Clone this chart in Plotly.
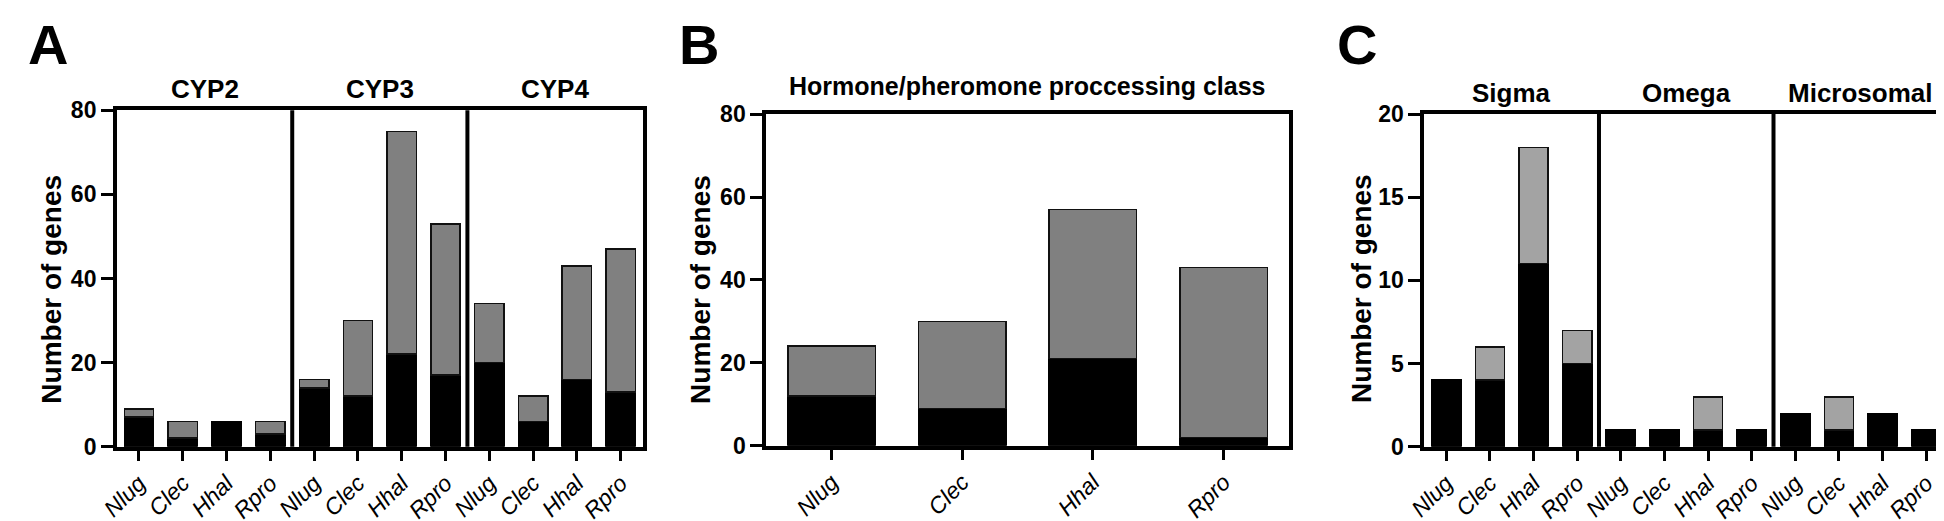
import plotly.graph_objects as go

species = ["Nlug", "Clec", "Hhal", "Rpro"]

cyp_groups = ["CYP2", "CYP3", "CYP4"]
cyp_black = [7, 2, 6, 3, 14, 12, 22, 17, 20, 6, 16, 13]
cyp_total = [9, 6, 6, 6, 16, 30, 75, 53, 34, 12, 43, 47]

hormone_title = "Hormone/pheromone proccessing class"
hormone_black = [12, 9, 21, 2]
hormone_total = [24, 30, 57, 43]

gst_groups = ["Sigma", "Omega", "Microsomal"]
gst_black = [4, 4, 11, 5, 1, 1, 1, 1, 2, 1, 2, 1]
gst_total = [4, 6, 18, 7, 1, 1, 3, 1, 2, 3, 2, 1]

W, H = 1944, 521
FONT = "Liberation Sans, Arial, sans-serif"


def grey_part(total, black):
    return [t - b if t - b > 0 else None for t, b in zip(total, black)]


def dom_x(a, b):
    return [a / W, b / W]


def dom_y(top, bottom):
    return [1 - bottom / H, 1 - top / H]


fig = go.Figure()

panels = [
    # black, total, light colour, labels, x domain, y domain, ymax, dtick, y-title x (px)
    (cyp_black, cyp_total, "#808080", species * 3, dom_x(92, 623), dom_y(94, 448), 80, 20, 26),
    (hormone_black, hormone_total, "#808080", species, dom_x(748, 1276), dom_y(98, 447), 80, 20, 682),
    (gst_black, gst_total, "#a3a3a3", species * 3, dom_x(1413, 1942), dom_y(98, 448), 20, 5, 1350),
]

for i, (black, total, light, labels, xdom, ydom, ymax, dt, ytx) in enumerate(panels):
    n = "" if i == 0 else str(i + 1)
    xa, ya = "x" + n, "y" + n
    xs = list(range(len(black)))
    fig.add_trace(go.Bar(x=xs, y=black, marker=dict(color="black", line=dict(color="black", width=1.5)),
                         xaxis=xa, yaxis=ya, showlegend=False))
    fig.add_trace(go.Bar(x=xs, y=grey_part(total, black),
                         marker=dict(color=light, line=dict(color="#111111", width=1.5)),
                         xaxis=xa, yaxis=ya, showlegend=False))
    fig.layout["xaxis" + n] = dict(
        domain=xdom, anchor=ya, range=[-0.5, len(black) - 0.5],
        tickvals=xs, ticktext=["<i>%s</i>" % t for t in labels], tickangle=-45,
        tickfont=dict(family=FONT, size=23, color="black"),
        ticks="outside", ticklen=10, tickwidth=3, tickcolor="black",
        showline=True, linewidth=4, linecolor="black", mirror=True,
        showgrid=False, zeroline=False,
    )
    fig.layout["yaxis" + n] = dict(
        domain=ydom, anchor=xa, range=[0, ymax], dtick=dt,
        tickfont=dict(family=FONT, size=23, color="black", weight="bold"),
        ticks="outside", ticklen=12, tickwidth=3, tickcolor="black",
        showline=True, linewidth=4, linecolor="black", mirror=True,
        showgrid=False, zeroline=False,
    )
    fig.add_annotation(x=ytx / W, y=1 - 282 / H, xref="paper", yref="paper", textangle=-90,
                       xanchor="center", yanchor="middle",
                       text="<b>Number of genes</b>", showarrow=False,
                       font=dict(family=FONT, size=28, color="black"))

# group dividers and titles
for xa, ya, groups in (("x", "y", cyp_groups), ("x3", "y3", gst_groups)):
    for k, g in enumerate(groups):
        if k > 0:
            fig.add_shape(type="line", xref=xa, yref=ya + " domain", x0=4 * k - 0.5, x1=4 * k - 0.5,
                          y0=0, y1=1, line=dict(color="black", width=4))
        fig.add_annotation(x=4 * k + 1.5, y=1, xref=xa, yref=ya + " domain", yanchor="bottom",
                           text="<b>%s</b>" % g, showarrow=False, yshift=4,
                           font=dict(family=FONT, size=26, color="black"))

fig.add_annotation(x=1.5, y=1, xref="x2", yref="y2 domain", yanchor="bottom", text="<b>%s</b>" % hormone_title,
                   showarrow=False, yshift=12, font=dict(family=FONT, size=25, color="black"))

for letter, xp in (("A", 0), ("B", 658), ("C", 1323)):
    fig.add_annotation(x=xp / W, y=1 - 25 / H, xref="paper", yref="paper", xanchor="left", yanchor="middle",
                       text="<b>%s</b>" % letter, showarrow=False,
                       font=dict(family=FONT, size=56, color="black"))

fig.update_layout(
    width=W, height=H, margin=dict(l=0, r=0, t=0, b=0),
    barmode="stack", bargap=0.33,
    plot_bgcolor="white", paper_bgcolor="white",
    font=dict(family=FONT, color="black"),
)

fig.write_html("out.html")
